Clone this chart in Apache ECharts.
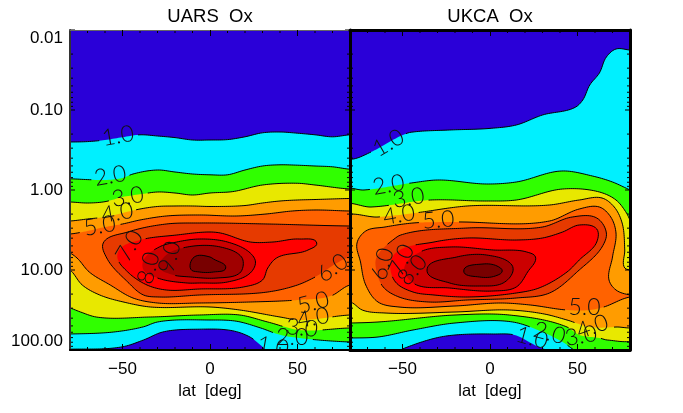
<!DOCTYPE html>
<html><head><meta charset="utf-8">
<style>html,body{margin:0;padding:0;background:#fff}#c{width:683px;height:413px}</style>
<script src="https://cdn.jsdelivr.net/npm/echarts@6/dist/echarts.min.js"></script>
</head><body><div id="c"></div>
<script>
// Contour levels of Ox (ppmv); each curve is a list of [lat in deg, log10(pressure in hPa)]
const levels = [1,2,3,4,5,6,7,8,9,10];
const levelColors = ['#00f0ff','#30ff00','#e8e800','#ff9c00','#ff6200','#e63a00','#ff0000','#cc0000','#a00000','#780000'];
const baseColor = '#2a00d8';
const yMajor = [0.01,0.1,1,10,100];
const yMinor = [0.02,0.03,0.04,0.05,0.06,0.07,0.08,0.09,0.2,0.3,0.4,0.5,0.6,0.7,0.8,0.9,2,3,4,5,6,7,8,9,20,30,40,50,60,70,80,90];
const xMajor = [-50,0,50];
const xMinor = [-70,-60,-40,-30,-20,-10,10,20,30,40,60,70];

const uars1 = [[-85,-.6],[-80,-.6],[-70,-.605],[-60,-.625],[-50,-.66],[-40,-.69],[-30,-.675],[-20,-.655],[-10,-.625],[0,-.625],[10,-.63],[20,-.665],[30,-.715],[40,-.725],[50,-.71],[60,-.69],[70,-.665],[80,-.69],[85,-.69],
 [85,2.05],[34,2.03],[30,1.96],[23,1.84],[13,1.76],[-6,1.74],[-27,1.775],[-38,1.875],[-50,1.96],[-80,1.99],[-85,1.99]];
const uars2 = [[-85,-.14],[-80,-.14],[-70,-.13],[-60,-.125],[-50,-.15],[-44,-.2],[-30,-.25],[-20,-.225],[-10,-.2],[0,-.19],[10,-.19],[20,-.25],[30,-.3],[40,-.315],[50,-.31],[60,-.3],[70,-.29],[80,-.26],[85,-.26],
 [85,1.9],[80,1.9],[51,1.85],[40,1.81],[29,1.725],[15,1.64],[0,1.625],[-30,1.65],[-38,1.71],[-55,1.775],[-80,1.8],[-85,1.8]];
const uars3 = [[-85,.15],[-80,.15],[-70,.1625],[-60,.146],[-50,.0875],[-40,.054],[-30,.025],[-20,.0375],[-10,.0625],[0,.0375],[13,.02],[30,-.0625],[50,-.084],[60,-.0625],[80,-.0125],[85,-.0125],
 [85,1.725],[80,1.725],[51,1.75],[33,1.65],[17,1.5625],[-6,1.5625],[-34,1.5875],[-65,1.5875],[-74,1.525],[-80,1.475],[-85,1.45]];
const uars4 = [[-85,.3875],[-80,.3875],[-70,.3625],[-60,.3375],[-50,.2875],[-40,.2375],[-30,.206],[-20,.2],[-10,.2],[0,.206],[20,.194],[30,.1625],[40,.1375],[50,.125],[60,.119],[80,.106],[85,.106],
 [85,1.5625],[80,1.5625],[51,1.625],[40,1.5875],[17,1.5],[0,1.4625],[-34,1.4625],[-47,1.4125],[-63,1.3125],[-73,1.1875],[-80,1],[-85,.95]];
const uars5 = [[-85,.55],[-80,.55],[-70,.5125],[-60,.4625],[-50,.425],[-40,.375],[-25,.325],[-6,.3125],[15,.325],[32,.3],[47,.2625],[60,.25],[80,.2625],[85,.2625],
 [85,1.1875],[80,1.1875],[69,1.325],[50,1.375],[23,1.4],[-6,1.4125],[-30,1.4125],[-44,1.35],[-57,1.1875],[-69,1.025],[-76,.85],[-80,.7875],[-85,.75]];
const uars6 = [[-61,.6625],[-47,.525],[-25,.425],[-6,.4125],[33,.425],[80,.45],[85,.45],[85,.8375],[80,.8375],[59,1.1],[50,1.1875],[33,1.275],[-6,1.3125],[-29,1.3375],[-38,1.3125],[-47,1.15],[-59,.85]];
const uars7 = [[-51,.725],[-40,.625],[-19,.5625],[0,.525],[6,.5375],[23,.65],[36,.65],[51,.6125],[61,.6625],[56,.75],[38,.85],[33,.975],[30,1.125],[19,1.2125],[-6,1.2375],[-25,1.25],[-36,1.1875],[-47,1.025],[-53,.8375]];
const uars8 = [[-38,1],[-38,.875],[-29,.7125],[-19,.65],[-6,.6125],[10,.65],[23,.7875],[26,.9],[23,1.0375],[10,1.15],[-6,1.1625],[-13,1.1625],[-30,1.1]];
const uars9 = [[-29,.9625],[-25,.8125],[-13,.7125],[6,.7125],[18,.8375],[19,.9375],[17,1.0375],[4,1.1],[-11,1.0875],[-23,1.05]];
const uars10 = [[-11,.99],[-9,.8375],[0,.8375],[2,.8625],[9,.975],[2,1.025],[-6,1.025]];

const ukca1 = [[-85,-.3875],[-78,-.3875],[-68,-.475],[-47,-.7125],[-44,-.725],[-23,-.75],[0,-.77],[15,-.8125],[30,-.9375],[49,-1.0375],[53,-1.125],[57,-1.3125],[62.5,-1.4625],[66.5,-1.6625],[72,-1.7625],[80,-1.75],[85,-1.75],
 [85,2.05],[39,2.03],[28,1.9625],[14,1.8125],[2,1.8],[-20,1.8125],[-31,1.85],[-50,1.9875],[-54,2.03],[-85,2.03]];
const ukca2 = [[-85,0],[-72,0],[-45,-.0875],[-30,-.125],[-2,-.075],[15,-.1],[41,-.2375],[58.5,-.175],[70,-.1],[80,0],[85,.05],
 [85,2.05],[51,2.03],[41.5,1.9],[30,1.775],[13,1.65],[-20,1.6625],[-44,1.75],[-64,1.8375],[-80,1.85],[-85,1.85]];
const ukca3 = [[-85,.2],[-68,.2125],[-34,.125],[-2,.1375],[15,.125],[41.5,-.0125],[62.5,.025],[72,.125],[78,.2875],[80,.375],[85,.5625],
 [85,1.8375],[67,1.875],[62.5,1.85],[51,1.8125],[44,1.7125],[11,1.5625],[-20,1.5625],[-64,1.65],[-80,1.6625],[-85,1.6625]];
const ukca4 = [[-85,.35],[-64,.3375],[-43,.2875],[-13,.2],[34,.1875],[51,.125],[64,.1],[71,.2125],[75.5,.4125],[77,.75],[77,.975],[80,1],[85,1.03],
 [85,1.6875],[72,1.7125],[57,1.7125],[44,1.625],[31,1.55],[11,1.5],[-20,1.525],[-60,1.5375],[-73,1.5],[-78.5,1.4125],[-85,1.35]];
const ukca5 = [[-76,.6625],[-71,.5125],[-60,.4625],[-44,.4125],[-20,.4],[34,.3875],[51,.2375],[62.5,.2125],[69,.3375],[72,.5375],[70,.8375],[68,1.125],[72,1.25],[80,1.3125],[85,1.32],[85,1.34],[80,1.3375],[65,1.4625],[57,1.5],[44,1.5],[23,1.4375],[6,1.4125],[-20,1.45],[-52,1.4625],[-64,1.4],[-71,1.1875],[-74,.9]];
const ukca6 = [[-65,.85],[-54,.6],[-51,.5625],[-13,.475],[30,.4625],[47,.3375],[61,.35],[66.5,.5375],[64,.7125],[51,1],[34,1.2875],[15,1.35],[-13,1.375],[-35,1.4],[-52,1.3375],[-61,1.2125],[-65,1]];
const ukca7 = [[-57,.9375],[-54,.7875],[-32,.65],[-13,.6],[15,.625],[30,.6],[41.5,.525],[51,.4375],[61,.4875],[61,.65],[51,.875],[44,1.025],[28,1.225],[15,1.2875],[-13,1.3375],[-32,1.3125],[-44,1.275],[-54,1.15]];
const ukca8 = [[-49,.975],[-40,.775],[-23,.7125],[2,.75],[21,.775],[26,.8375],[21.5,1.025],[15,1.2125],[2,1.2625],[-23,1.225],[-44,1.1625]];
const ukca9 = [[-36,1],[-19,.8375],[-2,.8125],[12.5,.9375],[13,1.025],[7.5,1.1625],[-6,1.2],[-23,1.1625]];
const ukca10 = [[-15,1.0125],[-4,.925],[4,.95],[7,1.0125],[3,1.075],[-6,1.0875]];

// Contour labels: [level, lat, log10(p), rotation in degrees]
const uarsLabels = [[1,-52.6,-.675,10],[2,-57,-.175,10],[3,-47,.0875,10],[4,-53,.2875,10],[5,-63,.45,10],[7,-46,.7,60],[8,-35,.975,75],[9,-23,.84,75],[6,70,.975,35],[5,59,1.41,15],[4,59,1.6,10],[3,52.6,1.725,-5],[2,47,1.84,0],[1,36,1.96,-10]];
const ukcaLabels = [[1,-58,-.5875,30],[2,-58,-.0625,10],[3,-46.5,.1,10],[4,-52,.3125,10],[5,-29.5,.375,5],[6,-61.4,.925,75],[7,-50.6,.875,65],[8,-44.3,1,50],[5,54,1.475,0],[4,58.5,1.71,20],[3,52,1.825,10],[2,34,1.79,-15],[1,24,1.85,-15]];

const uarsCurves = [uars1,uars2,uars3,uars4,uars5,uars6,uars7,uars8,uars9,uars10];
const ukcaCurves = [ukca1,ukca2,ukca3,ukca4,ukca5,ukca6,ukca7,ukca8,ukca9,ukca10];

const FONT = '"Liberation Sans"';

// Smooth closed outline through the data points, in pixel space
function smoothOutline(p){
  const n=p.length, dirs=[], out=[];
  for(let k=0;k<n;k++){
    const a=p[(k+n-1)%n], b=p[k], c=p[(k+1)%n];
    const l1=Math.hypot(b[0]-a[0],b[1]-a[1])||1, l2=Math.hypot(c[0]-b[0],c[1]-b[1])||1;
    let dx=(b[0]-a[0])/l1+(c[0]-b[0])/l2, dy=(b[1]-a[1])/l1+(c[1]-b[1])/l2;
    const l=Math.hypot(dx,dy)||1; dirs.push([dx/l,dy/l]);
  }
  for(let k=0;k<n;k++){
    const a=p[k], b=p[(k+1)%n], da=dirs[k], db=dirs[(k+1)%n];
    const s=Math.hypot(b[0]-a[0],b[1]-a[1])*0.33;
    const c1=[a[0]+da[0]*s,a[1]+da[1]*s], c2=[b[0]-db[0]*s,b[1]-db[1]*s];
    const steps=Math.max(2,Math.ceil(s*3/2));
    for(let j=0;j<steps;j++){
      const t=j/steps,u=1-t;
      out.push([u*u*u*a[0]+3*u*u*t*c1[0]+3*u*t*t*c2[0]+t*t*t*b[0], u*u*u*a[1]+3*u*u*t*c1[1]+3*u*t*t*c2[1]+t*t*t*b[1]]);
    }
  }
  return out;
}
function contourSeries(curves, labels, axisIdx){
  return {
    type:'custom', coordinateSystem:'cartesian2d', xAxisIndex:axisIdx, yAxisIndex:axisIdx, clip:true, z:3,
    silent:true,
    data: levels.map((l,i)=>[i,1]),
    renderItem(params, api){
      const i = api.value(0);
      const pts = smoothOutline(curves[i].map(p=>api.coord([p[0], Math.pow(10,p[1])])));
      const gaps = labels.filter(l=>l[0]===levels[i]).map(l=>{
        const c = api.coord([l[1], Math.pow(10,l[2])]);
        return {x:c[0], y:c[1], a:l[3]*Math.PI/180};
      });
      const inGap = (x,y)=>gaps.some(g=>{
        const dx=x-g.x, dy=y-g.y;
        const u=dx*Math.cos(g.a)-dy*Math.sin(g.a), v=dx*Math.sin(g.a)+dy*Math.cos(g.a);
        return Math.abs(u)<19 && Math.abs(v)<10;
      });
      const children = [{type:'polygon', shape:{points:pts}, style:{fill:levelColors[i], stroke:null}}];
      let run = [];
      const flush=()=>{ if(run.length>1) children.push({type:'polyline', shape:{points:run}, style:{fill:null, stroke:'#000', lineWidth:1}}); run=[]; };
      pts.concat([pts[0]]).forEach(q=>{ if(inGap(q[0],q[1])) flush(); else run.push(q); });
      flush();
      return {type:'group', children};
    }
  };
}
function labelSeries(labels, axisIdx){
  return {
    type:'custom', coordinateSystem:'cartesian2d', xAxisIndex:axisIdx, yAxisIndex:axisIdx, clip:true, z:4, silent:true,
    data: labels.map((l,i)=>[i,1]),
    renderItem(params, api){
      const l = labels[api.value(0)];
      const c = api.coord([l[1], Math.pow(10,l[2])]);
      return {type:'text', x:c[0], y:c[1], rotation:l[3]*Math.PI/180,
        style:{text:l[0].toFixed(1), fill:'#111', font:'300 23px Lato', align:'center', verticalAlign:'middle'}};
    }
  };
}
function tickSeries(axisIdx){
  const ys = yMajor.map(v=>[v,5]).concat(yMinor.map(v=>[v,3]));
  return {
    type:'custom', coordinateSystem:'cartesian2d', xAxisIndex:axisIdx, yAxisIndex:axisIdx, clip:false, z:6, silent:true,
    data: ys.map((t,i)=>[i,1]).concat(xMinor.map((v,i)=>[ys.length+i,1])),
    renderItem(params, api){
      const idx = api.value(0);
      const st = {stroke:'#000', lineWidth:1};
      if(idx<ys.length){
        const t = ys[idx];
        const a = api.coord([-80,t[0]]), b = api.coord([80,t[0]]);
        return {type:'group', children:[
          {type:'line', shape:{x1:a[0],y1:a[1],x2:a[0]+t[1],y2:a[1]}, style:st},
          {type:'line', shape:{x1:b[0],y1:b[1],x2:b[0]-t[1],y2:b[1]}, style:st}
        ]};
      }
      const v = xMinor[idx-ys.length];
      const a = api.coord([v,0.01]), b = api.coord([v,100]);
      return {type:'group', children:[
        {type:'line', shape:{x1:a[0],y1:a[1],x2:a[0],y2:a[1]+3}, style:st},
        {type:'line', shape:{x1:b[0],y1:b[1],x2:b[0],y2:b[1]-3}, style:st}
      ]};
    }
  };
}
function xAxes(gridIndex, width, topColor, topWidth){
  const common = {type:'value', gridIndex, min:-80, max:80, z:10, splitLine:{show:false}};
  return [
    Object.assign({}, common, {position:'bottom', name:'lat  [deg]', nameLocation:'middle', nameGap:32,
      nameTextStyle:{color:'#000', fontFamily:FONT, fontSize:16.5},
      axisLine:{show:true,onZero:false,lineStyle:{color:'#000',width}},
      axisTick:{show:true,inside:true,length:6,customValues:xMajor,lineStyle:{color:'#000',width:1}},
      axisLabel:{show:true,margin:11,color:'#000',fontFamily:FONT,fontSize:17,customValues:xMajor,
        formatter:v=>String(v).replace('-','\u2212')}}),
    Object.assign({}, common, {position:'top',
      axisLine:{show:true,onZero:false,lineStyle:{color:topColor,width:topWidth}},
      axisTick:{show:true,inside:true,length:6,customValues:xMajor,lineStyle:{color:'#000',width:1}},
      axisLabel:{show:false}})
  ];
}
function yAxis(gridIndex, position, width, showLabels, color){
  return {type:'log', logBase:10, gridIndex, position, inverse:true, min:0.01, max:100, z:10,
    splitLine:{show:false}, axisTick:{show:false},
    axisLine:{show:true,onZero:false,lineStyle:{color:color||'#000',width}},
    axisLabel:{show:showLabels,margin:7,color:'#000',fontFamily:FONT,fontSize:17,verticalAlignMinLabel:'top',verticalAlignMaxLabel:'bottom',
      formatter:v=>Number(v).toFixed(2)}};
}

const chart = echarts.init(document.getElementById('c'), null, {renderer:'canvas'});
chart.setOption({
  animation:false,
  backgroundColor:'#fff',
  title:[
    {text:'UARS  Ox', left:205, top:2, textAlign:'center', textStyle:{color:'#000',fontFamily:FONT,fontSize:18.5,fontWeight:'normal'}},
    {text:'UKCA  Ox', left:485, top:2, textAlign:'center', textStyle:{color:'#000',fontFamily:FONT,fontSize:18.5,fontWeight:'normal'}}
  ],
  grid:[
    {left:70, top:30, width:280, height:320, show:true, backgroundColor:baseColor, borderWidth:0},
    {left:350, top:30, width:280, height:320, show:true, backgroundColor:baseColor, borderWidth:0}
  ],
  xAxis:[...xAxes(0,2,'#666',1), ...xAxes(1,3,'#000',3)],
  yAxis:[yAxis(0,'left',2,true,'#333'), yAxis(0,'right',1,false), yAxis(1,'left',3,false), yAxis(1,'right',3,false)],
  series:[
    contourSeries(uarsCurves, uarsLabels, 0), labelSeries(uarsLabels, 0), tickSeries(0),
    Object.assign(contourSeries(ukcaCurves, ukcaLabels, 2), {yAxisIndex:2}),
    Object.assign(labelSeries(ukcaLabels, 2), {yAxisIndex:2}),
    Object.assign(tickSeries(2), {yAxisIndex:2})
  ]
});
</script></body></html>
